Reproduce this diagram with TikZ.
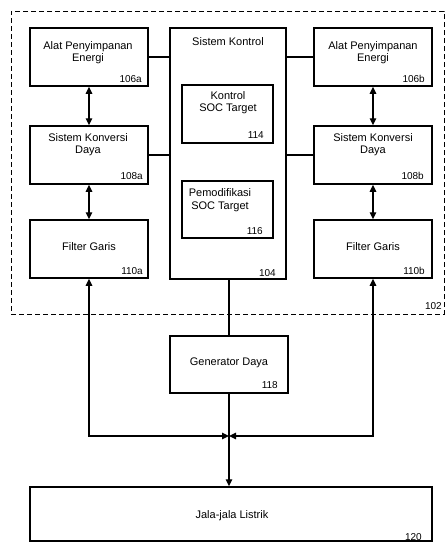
\documentclass[tikz,border=0pt]{standalone}
\usepackage{fontspec}
\setmainfont{Liberation Sans}
\usetikzlibrary{arrows.meta}
\begin{document}
\begin{tikzpicture}[x=1pt,y=-1pt,
  box/.style={draw, line width=1.5pt, inner sep=0pt, minimum width=#1},
  txt/.style={font=\fontsize{11}{12.5}\selectfont, align=center, inner sep=0pt},
  num/.style={font=\fontsize{10}{12}\selectfont, anchor=base east, inner sep=0pt},
  conn/.style={line width=1.4pt},
  biarrow/.style={conn, {Triangle[length=7pt,width=6.5pt]}-{Triangle[length=7pt,width=6.5pt]}},
  oarrow/.style={conn, -{Triangle[length=7pt,width=6.5pt]}},
  sysbox/.style={draw, line width=1pt, dash pattern=on 5pt off 3pt, inner sep=0pt}]
\useasboundingbox (0,0) rectangle (446,542);
% system boundary 102
\node[sysbox, minimum width=433pt, minimum height=303pt] (sys) at (227.5,162.5) {};
\node[num] (l102) at (442,309) {102};
% control system 104
\node[box=116pt, minimum height=251pt] (s104) at (228,153.5) {};
\node[txt] (t104) at (228,41.5) {Sistem Kontrol};
\node[num] (l104) at (276,276) {104};
\node[box=91pt, minimum height=58pt] (s114) at (227.5,114) {};
\node[txt] (t114) at (228,102.5) {Kontrol\\SOC Target};
\node[num] (l114) at (264,138) {114};
\node[box=91pt, minimum height=57pt] (s116) at (227.5,209.5) {};
\node[txt] (t116) at (220,200) {Pemodifikasi\\SOC Target};
\node[num] (l116) at (263,234) {116};
% left column
\node[box=118pt, minimum height=58pt] (a106) at (89,57) {};
\node[txt] (ta106) at (88,52.5) {Alat Penyimpanan\\Energi};
\node[num] (la106) at (142,82) {106a};
\node[box=118pt, minimum height=58pt] (a108) at (89,155) {};
\node[txt] (ta108) at (88,144.5) {Sistem Konversi\\Daya};
\node[num] (la108) at (143,179) {108a};
\node[box=118pt, minimum height=58pt] (a110) at (89,249) {};
\node[txt] (ta110) at (89,247) {Filter Garis};
\node[num] (la110) at (143,274) {110a};
% right column
\node[box=118pt, minimum height=58pt] (b106) at (373,57) {};
\node[txt] (tb106) at (373,52.5) {Alat Penyimpanan\\Energi};
\node[num] (lb106) at (425,82) {106b};
\node[box=118pt, minimum height=58pt] (b108) at (373,155) {};
\node[txt] (tb108) at (373,144.5) {Sistem Konversi\\Daya};
\node[num] (lb108) at (424,179) {108b};
\node[box=118pt, minimum height=58pt] (b110) at (373,249) {};
\node[txt] (tb110) at (373,247) {Filter Garis};
\node[num] (lb110) at (425,274) {110b};
% generator 118
\node[box=118pt, minimum height=57pt] (g118) at (229,364.5) {};
\node[txt] (t118) at (229,363) {Generator Daya};
\node[num] (l118) at (278,388) {118};
% grid 120
\node[box=402pt, minimum height=54pt] (g120) at (231,514) {};
\node[txt] (t120) at (232,515.5) {Jala-jala Listrik};
\node[num] (l120) at (422,540) {120};
% junction
\coordinate (j) at (229,436);
% connectors
\draw[conn] (a106.east) -- (a106.east -| s104.west);
\draw[conn] (a108.east) -- (a108.east -| s104.west);
\draw[conn] (b106.west) -- (b106.west -| s104.east);
\draw[conn] (b108.west) -- (b108.west -| s104.east);
\draw[biarrow] (a106.south) -- (a108.north);
\draw[biarrow] (a108.south) -- (a110.north);
\draw[biarrow] (b106.south) -- (b108.north);
\draw[biarrow] (b108.south) -- (b110.north);
\draw[biarrow] (a110.south) |- (j);
\draw[biarrow] (b110.south) |- (j);
\draw[conn] (s104.south -| g118.north) -- (g118.north);
\draw[oarrow] (g118.south) -- (g118.south |- g120.north);
\end{tikzpicture}
\end{document}
